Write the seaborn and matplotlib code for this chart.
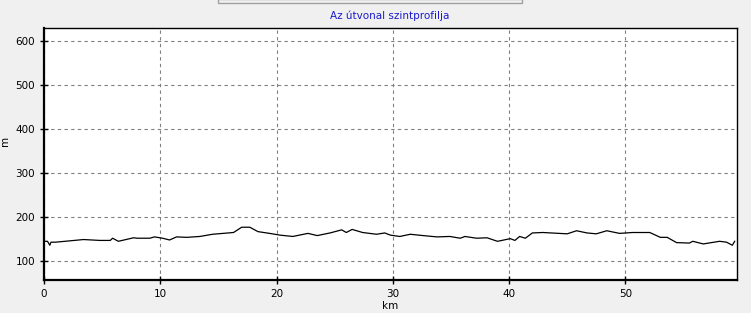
import matplotlib
matplotlib.use("Agg")
import matplotlib.pyplot as plt
import seaborn as sns
import pandas as pd
from matplotlib.patches import Rectangle

km = [0.0, 0.3, 0.5, 0.6, 1.0, 2.2, 3.4, 4.8, 5.7, 5.9, 6.4, 7.7, 8.0, 9.1, 9.5,
      10.2, 10.8, 11.4, 12.3, 13.4, 14.5, 16.3, 17.0, 17.7, 18.4, 19.4, 20.3,
      21.4, 22.7, 23.5, 24.6, 25.6, 26.0, 26.5, 27.4, 28.6, 29.3, 29.8, 30.6,
      31.5, 32.6, 33.8, 34.9, 35.8, 36.2, 37.2, 38.1, 39.0, 39.2, 40.1, 40.5,
      40.9, 41.4, 42.0, 42.9, 45.0, 45.8, 46.7, 47.5, 48.4, 49.5, 50.6, 52.1,
      53.0, 53.6, 54.4, 55.5, 55.8, 56.7, 58.1, 58.7, 59.2, 59.4]
elev = [145, 145, 136, 143, 143, 146, 149, 147, 147, 152, 145, 153, 152, 152, 155,
        152, 148, 155, 154, 156, 161, 165, 177, 177, 167, 163, 159,
        156, 163, 158, 164, 171, 165, 172, 165, 161, 164, 159, 156,
        161, 158, 155, 156, 152, 156, 152, 153, 145, 146, 151, 147,
        156, 152, 164, 165, 162, 169, 164, 162, 169, 163, 165, 165,
        154, 154, 142, 141, 145, 139, 145, 143, 136, 145]

title = "Az útvonal szintprofilja"
xticks = [0, 10, 20, 30, 40, 50]
yticks = [100, 200, 300, 400, 500, 600]

df = pd.DataFrame({"km": km, "m": elev})

plt.rcParams['font.family'] = ['DejaVu Sans']
fig = plt.figure(figsize=(7.51, 3.13), dpi=100)
fig.patch.set_facecolor("#f0f0f0")
ax = fig.add_axes([44/751, 33/313, (737-44)/751, (280-28)/313])
ax.set_facecolor("white")

sns.lineplot(data=df, x="km", y="m", ax=ax, color="black", linewidth=0.9)

ax.set_xlim(0, 59.6)
ax.set_ylim(57, 630)
ax.set_xticks(xticks)
ax.set_yticks(yticks)
ax.grid(True, color="#808080", linestyle=(0, (3, 3)), linewidth=0.8)
ax.tick_params(direction="inout", length=6, width=1, labelsize=7.5, colors="black")
for s in ax.spines.values():
    s.set_color("black")
    s.set_linewidth(1.0)
ax.spines["left"].set_linewidth(1.6)
ax.spines["bottom"].set_linewidth(1.6)
ax.set_xlabel("km", fontsize=7.5)
ax.set_ylabel("m", fontsize=7.5)
ax.xaxis.set_label_coords((390-44)/693, -(301-280)/252)
ax.yaxis.set_label_coords(-(44-10)/693, (280-141)/252)

fig.text(390/751, 1 - 16/313, title, color="#1a1acc", fontsize=7.5,
         ha="center", va="center")
fig.patches.append(Rectangle((218/751, 1 - 3/313), (522-218)/751, 4/313,
                             transform=fig.transFigure, facecolor="#f0f0f0",
                             edgecolor="#a0a0a0", linewidth=1))

fig.savefig("out.png", dpi=100, facecolor=fig.get_facecolor())
